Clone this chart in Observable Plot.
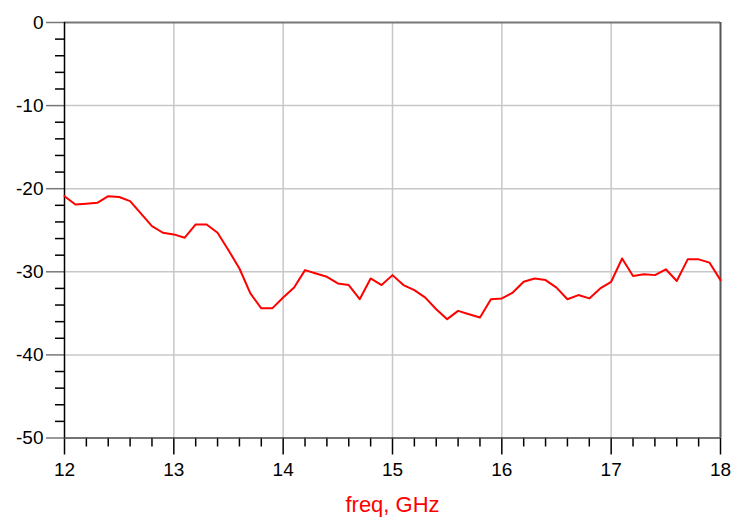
<!DOCTYPE html>
<html>
<head>
<meta charset="utf-8">
<script src="https://cdn.jsdelivr.net/npm/d3@7"></script>
<script src="https://cdn.jsdelivr.net/npm/@observablehq/plot@0.6"></script>
<style>
  html, body { margin: 0; padding: 0; background: #fff; }
  #chart { width: 747px; height: 525px; }
</style>
</head>
<body>
<div id="chart"></div>
<script>
const freq = [12.0,12.1,12.2,12.3,12.4,12.5,12.6,12.7,12.8,12.9,
  13.0,13.1,13.2,13.3,13.4,13.5,13.6,13.7,13.8,13.9,
  14.0,14.1,14.2,14.3,14.4,14.5,14.6,14.7,14.8,14.9,
  15.0,15.1,15.2,15.3,15.4,15.5,15.6,15.7,15.8,15.9,
  16.0,16.1,16.2,16.3,16.4,16.5,16.6,16.7,16.8,16.9,
  17.0,17.1,17.2,17.3,17.4,17.5,17.6,17.7,17.8,17.9,18.0];
const dB = [-20.9,-21.9,-21.8,-21.7,-20.9,-21.0,-21.5,-23.0,-24.5,-25.3,
  -25.5,-25.9,-24.3,-24.3,-25.3,-27.4,-29.6,-32.6,-34.4,-34.4,
  -33.1,-31.9,-29.8,-30.2,-30.6,-31.4,-31.6,-33.3,-30.8,-31.6,
  -30.4,-31.6,-32.2,-33.1,-34.5,-35.7,-34.7,-35.1,-35.5,-33.3,
  -33.2,-32.5,-31.2,-30.8,-31.0,-31.9,-33.3,-32.8,-33.2,-32.0,
  -31.2,-28.4,-30.5,-30.3,-30.4,-29.7,-31.1,-28.5,-28.5,-28.9,-31.0];
const xMajor = [12,13,14,15,16,17,18];
const xMinor = d3.range(30).map(i => 12 + i * 0.2).filter(v => Math.abs(v - Math.round(v)) > 0.01);
const yMajor = [0,-10,-20,-30,-40,-50];
const yMinor = d3.range(0, -50, -2).filter(v => v % 10 !== 0);
const yGrid = [-10,-20,-30,-40];
const xGrid = [13,14,15,16,17];
const xLabel = "freq, GHz";

const data = freq.map((f, i) => ({f, v: dB[i]}));

const plot = Plot.plot({
  width: 747,
  height: 525,
  marginLeft: 64,
  marginRight: 27,
  marginTop: 22,
  marginBottom: 87.5,
  style: {fontFamily: "'Liberation Sans', Arial, sans-serif", fontSize: "18px", color: "#000", background: "#fff"},
  x: {domain: [12, 18]},
  y: {domain: [-50, 0]},
  marks: [
    Plot.ruleX(xGrid, {stroke: "#c8c8c8", strokeWidth: 1.5}),
    Plot.ruleY(yGrid, {stroke: "#c8c8c8", strokeWidth: 1.5}),
    Plot.axisY({ticks: yMinor, tickSize: 9, tickFormat: () => "", stroke: "#000", strokeWidth: 1.5, label: null}),
    Plot.axisY({ticks: yMajor, tickSize: 18, tickPadding: 3, stroke: "#777", strokeWidth: 1.5, label: null, fill: "#000", fontSize: 19, tickFormat: d => String(d)}),
    Plot.axisX({ticks: xMinor, tickSize: 9, tickFormat: () => "", stroke: "#000", strokeWidth: 1.5, label: null}),
    Plot.axisX({ticks: xMajor, tickSize: 17, tickPadding: 7, stroke: "#000", strokeWidth: 1.5, label: null, fill: "#000", fontSize: 19, tickFormat: d => String(d)}),
    Plot.ruleY([0], {stroke: "#777", strokeWidth: 2}),
    Plot.ruleY([-50], {stroke: "#444", strokeWidth: 1.5}),
    Plot.ruleX([18], {stroke: "#555", strokeWidth: 2}),
    Plot.ruleX([12], {stroke: "#000", strokeWidth: 1.5}),
    Plot.line(data, {x: "f", y: "v", stroke: "#ff0000", strokeWidth: 2}),
    Plot.text([xLabel], {frameAnchor: "bottom", dy: 74, text: d => d, fill: "#ff0000", fontSize: 22})
  ]
});
document.getElementById("chart").appendChild(plot);
</script>
</body>
</html>
